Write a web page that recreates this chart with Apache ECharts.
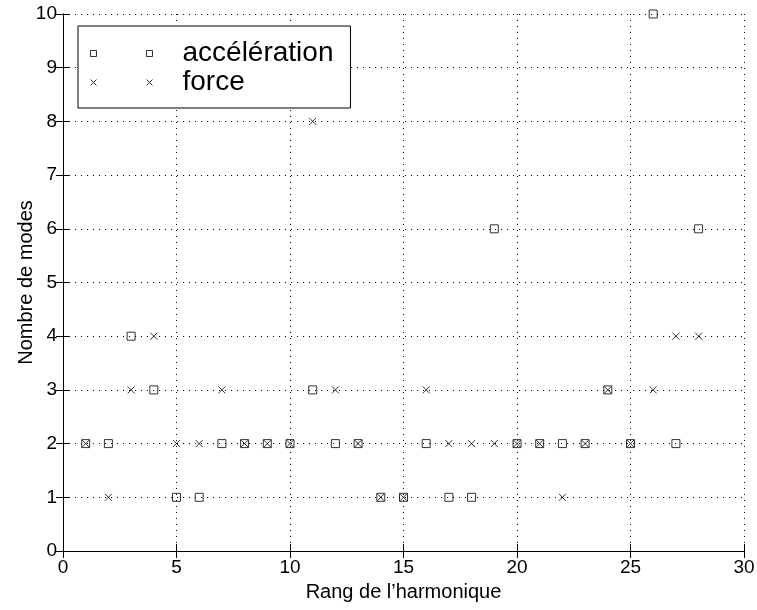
<!DOCTYPE html>
<html>
<head>
<meta charset="utf-8">
<script src="https://cdn.jsdelivr.net/npm/echarts@6/dist/echarts.min.js"></script>
<style>
  html, body { margin: 0; padding: 0; background: #fff; }
  #chart { width: 757px; height: 610px; }
</style>
</head>
<body>
<div id="chart"></div>
<script>
// rang de l'harmonique
var rangs = [1, 2, 3, 4, 5, 6, 7, 8, 9, 10, 11, 12, 13, 14, 15, 16, 17, 18, 19, 20, 21, 22, 23, 24, 25, 26, 27, 28];
// nombre de modes
var acceleration = [2, 2, 4, 3, 1, 1, 2, 2, 2, 2, 3, 2, 2, 1, 1, 2, 1, 1, 6, 2, 2, 2, 2, 3, 2, 10, 2, 6];
var force = [2, 1, 3, 4, 2, 2, 3, 2, 2, 2, 8, 3, 2, 1, 1, 3, 2, 2, 2, 2, 2, 1, 2, 3, 2, 3, 4, 4];

var FONT = "Liberation Sans";

function paires(ys) {
  return rangs.map(function (x, i) { return [x, ys[i]]; });
}

var squarePath = "path://M0,0h10v10h-10z";
var crossPath = "path://M0,0L10,10M10,0L0,10";

var chart = echarts.init(document.getElementById("chart"));

var axisCommun = {
  axisLine: { show: true, lineStyle: { color: "#000", width: 1 } },
  axisTick: { show: true, inside: true, length: 7, lineStyle: { color: "#000", width: 1 } },
  splitLine: { show: false },
  axisLabel: { show: false }
};

var grille = { show: true, lineStyle: { color: "#000", type: [1, 5], width: 1 } };

chart.setOption({
  animation: false,
  grid: { left: 63, right: 13, top: 14, bottom: 59, outerBoundsMode: "none", containLabel: false },
  xAxis: [
    Object.assign({}, axisCommun, {
      type: "value", min: 0, max: 30, interval: 5, position: "bottom",
      name: "Rang de l’harmonique", nameLocation: "middle", nameGap: 31, nameMoveOverlap: false,
      nameTextStyle: { fontFamily: FONT, fontSize: 20, color: "#000" },
      axisLabel: { show: true, fontFamily: FONT, fontSize: 19, color: "#000", margin: 7 },
      splitLine: grille
    }),
    Object.assign({}, axisCommun, {
      type: "value", min: 0, max: 30, interval: 5, position: "top"
    })
  ],
  yAxis: [
    Object.assign({}, axisCommun, {
      type: "value", min: 0, max: 10, interval: 1, position: "left",
      name: "Nombre de modes", nameLocation: "middle", nameGap: 27, nameMoveOverlap: false,
      nameTextStyle: { fontFamily: FONT, fontSize: 20, color: "#000" },
      axisLabel: { show: true, fontFamily: FONT, fontSize: 19, color: "#000", margin: 6 },
      splitLine: grille
    }),
    Object.assign({}, axisCommun, {
      type: "value", min: 0, max: 10, interval: 1, position: "right"
    })
  ],
  legend: {
    orient: "vertical",
    left: 78,
    top: 26,
    padding: [13, 17, 11, 10],
    itemGap: 0,
    itemWidth: 62,
    itemHeight: 6,
    backgroundColor: "#fff",
    borderColor: "#000",
    borderWidth: 1,
    borderRadius: 0,
    textStyle: { fontFamily: FONT, fontSize: 28, color: "#000", lineHeight: 21, padding: [8, 0, 0, 25] },
    data: [
      {
        name: "accélération",
        icon: "path://M0,0h6v6h-6zM56,0h6v6h-6z",
        itemStyle: { color: "none", borderColor: "#000", borderWidth: 1 }
      },
      {
        name: "force",
        icon: "path://M0,0L6,6M6,0L0,6M56,0L62,6M62,0L56,6",
        itemStyle: { color: "none", borderColor: "#000", borderWidth: 1 }
      }
    ]
  },
  series: [
    {
      name: "accélération",
      type: "scatter",
      data: paires(acceleration),
      symbol: squarePath,
      symbolSize: 8,
      itemStyle: { color: "none", borderColor: "#000", borderWidth: 1 },
      z: 3
    },
    {
      name: "force",
      type: "scatter",
      data: paires(force),
      symbol: crossPath,
      symbolSize: 7,
      itemStyle: { color: "none", borderColor: "#000", borderWidth: 1 },
      z: 4
    }
  ]
});
</script>
</body>
</html>
